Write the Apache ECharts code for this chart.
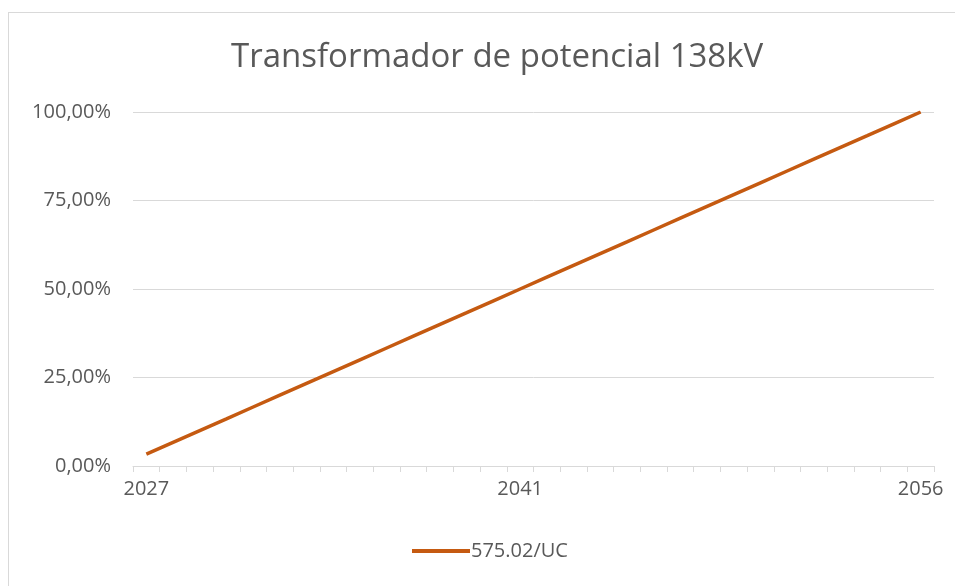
<!DOCTYPE html>
<html>
<head>
<meta charset="utf-8">
<script src="https://cdn.jsdelivr.net/npm/echarts@6/dist/echarts.min.js"></script>
<style>
  html, body { margin: 0; padding: 0; background: #fff; }
  #frame { position: absolute; left: 8px; top: 12px; width: 960px; height: 600px; border: 1px solid #d9d9d9; box-sizing: border-box; }
  #chart { position: absolute; left: 0; top: 0; width: 955px; height: 586px; }
</style>
</head>
<body>
<div id="frame"></div>
<div id="chart"></div>
<script>
var years = ['2027', '2028', '2029', '2030', '2031', '2032', '2033', '2034', '2035', '2036',
  '2037', '2038', '2039', '2040', '2041', '2042', '2043', '2044', '2045', '2046',
  '2047', '2048', '2049', '2050', '2051', '2052', '2053', '2054', '2055', '2056'];
var shownLabels = [0, 14, 29];
var seriesName = '575.02/UC';
var values = [3.33, 6.67, 10.0, 13.33, 16.67, 20.0, 23.33, 26.67, 30.0, 33.33,
  36.67, 40.0, 43.33, 46.67, 50.0, 53.33, 56.67, 60.0, 63.33, 66.67,
  70.0, 73.33, 76.67, 80.0, 83.33, 86.67, 90.0, 93.33, 96.67, 100.0];

var myChart = echarts.init(document.getElementById('chart'));
var font = 'Open Sans';
var option = {
  animation: false,
  title: {
    text: 'Transformador de potencial 138kV',
    left: 226,
    top: 36,
    textStyle: { fontFamily: font, fontSize: 33, fontWeight: 'normal', color: '#595959' }
  },
  legend: {
    bottom: 20,
    left: 407,
    icon: 'rect',
    itemWidth: 58,
    itemHeight: 4,
    itemGap: 2,
    textStyle: { fontFamily: font, fontSize: 20, color: '#595959', padding: [0, 0, 0, -4] },
    data: [seriesName]
  },
  grid: { left: 133, right: 21, top: 112, bottom: 120 },
  xAxis: {
    type: 'category',
    data: years,
    boundaryGap: true,
    axisLine: { lineStyle: { color: '#d9d9d9', width: 1 } },
    axisTick: { show: true, interval: 0, length: 6, lineStyle: { color: '#d9d9d9' } },
    axisLabel: {
      interval: function (i) { return shownLabels.indexOf(i) >= 0; },
      fontFamily: font, fontSize: 20, color: '#595959', margin: 13
    }
  },
  yAxis: {
    type: 'value',
    min: 0,
    max: 100,
    interval: 25,
    axisLine: { show: false },
    axisTick: { show: false },
    splitLine: { lineStyle: { color: '#d9d9d9', width: 1 } },
    axisLabel: {
      fontFamily: font, fontSize: 20, color: '#595959', margin: 22,
      formatter: function (v) { return v.toFixed(2).replace('.', ',') + '%'; }
    }
  },
  series: [{
    name: seriesName,
    type: 'line',
    data: values,
    showSymbol: false,
    symbol: 'none',
    lineStyle: { color: '#c55a11', width: 3.5 },
    itemStyle: { color: '#c55a11' }
  }]
};
myChart.setOption(option);
</script>
</body>
</html>
